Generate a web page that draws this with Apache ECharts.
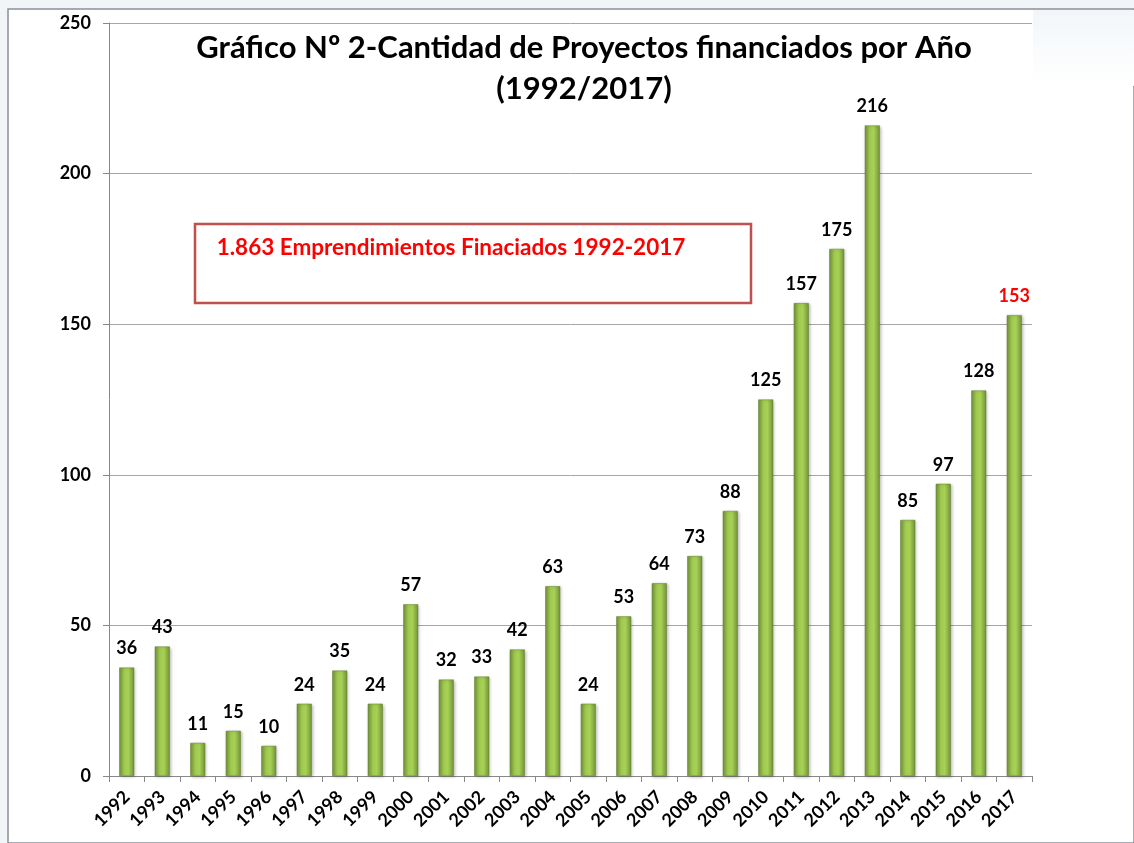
<!DOCTYPE html>
<html>
<head>
<meta charset="utf-8">
<script src="https://cdn.jsdelivr.net/npm/echarts@6/dist/echarts.min.js"></script>
<style>
  html, body { margin: 0; padding: 0; background: #f1f5f8; }
  #chart { width: 1134px; height: 843px; }
</style>
</head>
<body>
<div id="chart"></div>
<script>
// años y cantidad de proyectos financiados
var years = ['1992','1993','1994','1995','1996','1997','1998','1999','2000','2001','2002','2003','2004',
             '2005','2006','2007','2008','2009','2010','2011','2012','2013','2014','2015','2016','2017'];
var projects = [36,43,11,15,10,24,35,24,57,32,33,42,63,24,53,64,73,88,125,157,175,216,85,97,128,153];
var yTicks = [0, 50, 100, 150, 200, 250];
var titleText = 'Gráfico Nº 2-Cantidad de Proyectos financiados por Año\n(1992/2017)';
var boxText = '1.863 Emprendimientos Finaciados 1992-2017';

var font = 'Lato, "Open Sans", sans-serif';

var barColor = {
  type: 'linear', x: 0, y: 0, x2: 1, y2: 0,
  colorStops: [
    {offset: 0, color: '#73933a'},
    {offset: 0.35, color: '#a0ca4f'},
    {offset: 0.6, color: '#a8d256'},
    {offset: 1, color: '#73933a'}
  ]
};

var chart = echarts.init(document.getElementById('chart'));

var option = {
  backgroundColor: 'transparent',
  animation: false,
  graphic: [
    {type: 'rect', z: -10, shape: {x: 8, y: 9, width: 1126, height: 834},
     style: {fill: '#ffffff', stroke: '#8a8f96', lineWidth: 1.5}},
    {type: 'rect', z: -9, shape: {x: 1033, y: 10, width: 101, height: 76},
     style: {fill: {type: 'linear', x: 0, y: 0, x2: 0, y2: 1,
       colorStops: [{offset: 0, color: '#f2f6f9'}, {offset: 1, color: '#ffffff'}]}}},
    {type: 'rect', z: 10, shape: {x: 195, y: 224, width: 556, height: 79},
     style: {fill: '#ffffff', stroke: '#c0504d', lineWidth: 2.5}},
    {type: 'text', z: 11, x: 451, y: 248,
     style: {text: boxText, fill: '#ff0000', font: 'bold 22.5px ' + font,
       align: 'center', verticalAlign: 'middle'}}
  ],
  title: {
    text: titleText,
    left: 579, top: 22, textAlign: 'center',
    textStyle: {fontFamily: font, fontWeight: 'bold', fontSize: 31, color: '#000', lineHeight: 41}
  },
  grid: {left: 109, right: 102, top: 23, bottom: 67, containLabel: false},
  xAxis: {
    type: 'category',
    data: years,
    axisLine: {show: true, lineStyle: {color: '#888888', width: 1}},
    axisTick: {show: true, length: 6, alignWithLabel: false, lineStyle: {color: '#888888'}},
    axisLabel: {rotate: 45, interval: 0, margin: 18, color: '#000',
      fontFamily: font, fontWeight: 'bold', fontSize: 18}
  },
  yAxis: {
    type: 'value',
    min: yTicks[0], max: yTicks[yTicks.length - 1], interval: 50,
    axisLine: {show: true, lineStyle: {color: '#888888', width: 1}},
    axisTick: {show: true, length: 6, lineStyle: {color: '#888888'}},
    splitLine: {show: true, lineStyle: {color: '#a6a6a6', width: 1}},
    axisLabel: {margin: 18, color: '#000', fontFamily: font, fontWeight: 'bold', fontSize: 18}
  },
  series: [{
    type: 'bar',
    barWidth: 15,
    data: projects.map(function (v, i) {
      var item = {value: v};
      if (i === projects.length - 1) item.label = {color: '#ff0000'};
      return item;
    }),
    itemStyle: {color: barColor, borderColor: '#62802d', borderWidth: 0.5,
      shadowColor: 'rgba(0,0,0,0.25)', shadowBlur: 3, shadowOffsetX: 1, shadowOffsetY: 1},
    label: {show: true, position: 'top', distance: 10, color: '#000',
      fontFamily: font, fontWeight: 'bold', fontSize: 18}
  }]
};

chart.setOption(option);
</script>
</body>
</html>
